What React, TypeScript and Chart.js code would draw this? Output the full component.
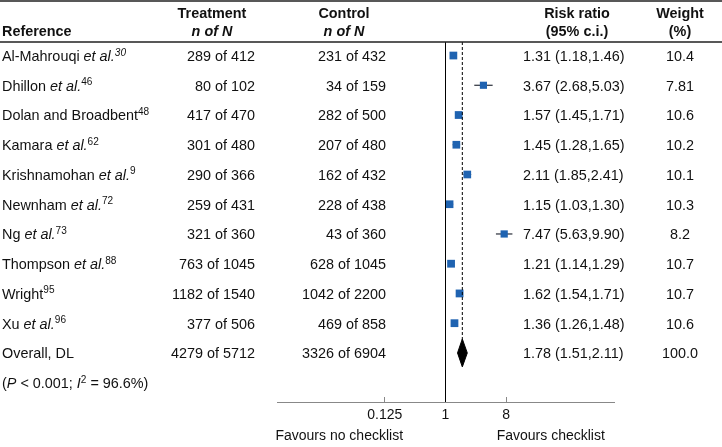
import React, { useEffect, useRef } from "react";
import { Chart, registerables } from "chart.js";

Chart.register(...registerables);

// ---------------- data ----------------
const authors = [
  "Al-Mahrouqi",
  "Dhillon",
  "Dolan and Broadbent",
  "Kamara",
  "Krishnamohan",
  "Newnham",
  "Ng",
  "Thompson",
  "Wright",
  "Xu",
];
const etAl = [true, true, false, true, true, true, true, true, false, true];
const refNums = ["30", "46", "48", "62", "9", "72", "73", "88", "95", "96"];
const refItalic = [true, false, false, false, false, false, false, false, false, false];
const treatEvents = [289, 80, 417, 301, 290, 259, 321, 763, 1182, 377];
const treatTotal = [412, 102, 470, 480, 366, 431, 360, 1045, 1540, 506];
const ctrlEvents = [231, 34, 282, 207, 162, 228, 43, 628, 1042, 469];
const ctrlTotal = [432, 159, 500, 480, 432, 438, 360, 1045, 2200, 858];
const riskRatio = [1.31, 3.67, 1.57, 1.45, 2.11, 1.15, 7.47, 1.21, 1.62, 1.36];
const ciLow = [1.18, 2.68, 1.45, 1.28, 1.85, 1.03, 5.63, 1.14, 1.54, 1.26];
const ciHigh = [1.46, 5.03, 1.71, 1.65, 2.41, 1.3, 9.9, 1.29, 1.71, 1.48];
const weights = ["10.4", "7.81", "10.6", "10.2", "10.1", "10.3", "8.2", "10.7", "10.7", "10.6"];

const overallLabel = "Overall, DL";
const overallTreat = [4279, 5712];
const overallCtrl = [3326, 6904];
const overallRR = 1.78;
const overallLow = 1.51;
const overallHigh = 2.11;
const overallWeight = "100.0";

const xTicks = [0.125, 1, 8];
const xTickLabels = ["0.125", "1", "8"];
const favoursLeft = "Favours no checklist";
const favoursRight = "Favours checklist";

// ---------------- style ----------------
const FAMILY = '"Liberation Sans", Arial, Helvetica, sans-serif';
const FS = 14.4;
const TEXT = "#111";
const BLUE = "#1f63b1";
const Y_MIN = -0.455;
const Y_MAX = 11.65;
const OVERALL_ROW = authors.length;
const NOTE_ROW = authors.length + 1;
const HEAD1 = -1.45;
const HEAD2 = -0.84;
const DIAMOND_H = 0.47;
const TEXT_DY = 1.5;

type Seg = { t: string; i?: boolean; b?: boolean; s?: boolean };

function segFont(seg: Seg) {
  const size = seg.s ? FS * 0.7 : FS;
  return `${seg.i ? "italic " : ""}${seg.b ? "bold " : ""}${size}px ${FAMILY}`;
}

function drawRich(
  ctx: CanvasRenderingContext2D,
  segs: Seg[],
  x: number,
  y: number,
  align: "left" | "right" | "center"
) {
  ctx.textAlign = "left";
  ctx.textBaseline = "middle";
  let w = 0;
  const widths: number[] = [];
  for (const s of segs) {
    ctx.font = segFont(s);
    const mw = ctx.measureText(s.t).width;
    widths.push(mw);
    w += mw;
  }
  let cx = align === "left" ? x : align === "right" ? x - w : x - w / 2;
  const yy = y + TEXT_DY;
  segs.forEach((s, k) => {
    ctx.font = segFont(s);
    ctx.fillText(s.t, cx, s.s ? yy - FS * 0.3 : yy);
    cx += widths[k];
  });
}

const COL = {
  ref: 2,
  treatHead: 212,
  treatRight: 255,
  ctrlHead: 344,
  ctrlRight: 386,
  rrHead: 577,
  rrLeft: 523,
  weight: 680,
};

const tablePlugin = {
  id: "forestTable",
  afterDraw(chart: any) {
    const ctx: CanvasRenderingContext2D = chart.ctx;
    const ys = chart.scales.y;
    const xs = chart.scales.x;
    const W = chart.width;
    ctx.save();
    ctx.fillStyle = TEXT;

    // rules
    ctx.strokeStyle = "#222";
    ctx.lineWidth = 1.3;
    ctx.beginPath();
    ctx.moveTo(0, 1);
    ctx.lineTo(W, 1);
    const sep = ys.getPixelForValue(Y_MIN);
    ctx.moveTo(0, sep);
    ctx.lineTo(W, sep);
    ctx.stroke();

    // headers
    const h1 = ys.getPixelForValue(HEAD1);
    const h2 = ys.getPixelForValue(HEAD2);
    drawRich(ctx, [{ t: "Reference", b: true }], COL.ref, h2, "left");
    drawRich(ctx, [{ t: "Treatment", b: true }], COL.treatHead, h1, "center");
    drawRich(ctx, [{ t: "n of N", b: true, i: true }], COL.treatHead, h2, "center");
    drawRich(ctx, [{ t: "Control", b: true }], COL.ctrlHead, h1, "center");
    drawRich(ctx, [{ t: "n of N", b: true, i: true }], COL.ctrlHead, h2, "center");
    drawRich(ctx, [{ t: "Risk ratio", b: true }], COL.rrHead, h1, "center");
    drawRich(ctx, [{ t: "(95% c.i.)", b: true }], COL.rrHead, h2, "center");
    drawRich(ctx, [{ t: "Weight", b: true }], COL.weight, h1, "center");
    drawRich(ctx, [{ t: "(%)", b: true }], COL.weight, h2, "center");

    // study rows
    authors.forEach((a, i) => {
      const y = ys.getPixelForValue(i);
      const segs: Seg[] = [];
      if (etAl[i]) {
        segs.push({ t: a + " " });
        segs.push({ t: "et al.", i: true });
      } else {
        segs.push({ t: a });
      }
      segs.push({ t: refNums[i], s: true, i: refItalic[i] });
      drawRich(ctx, segs, COL.ref, y, "left");
      drawRich(ctx, [{ t: `${treatEvents[i]} of ${treatTotal[i]}` }], COL.treatRight, y, "right");
      drawRich(ctx, [{ t: `${ctrlEvents[i]} of ${ctrlTotal[i]}` }], COL.ctrlRight, y, "right");
      drawRich(
        ctx,
        [{ t: `${riskRatio[i].toFixed(2)} (${ciLow[i].toFixed(2)},${ciHigh[i].toFixed(2)})` }],
        COL.rrLeft,
        y,
        "left"
      );
      drawRich(ctx, [{ t: weights[i] }], COL.weight, y, "center");
    });

    // overall row
    const yo = ys.getPixelForValue(OVERALL_ROW);
    drawRich(ctx, [{ t: overallLabel }], COL.ref, yo, "left");
    drawRich(ctx, [{ t: `${overallTreat[0]} of ${overallTreat[1]}` }], COL.treatRight, yo, "right");
    drawRich(ctx, [{ t: `${overallCtrl[0]} of ${overallCtrl[1]}` }], COL.ctrlRight, yo, "right");
    drawRich(
      ctx,
      [{ t: `${overallRR.toFixed(2)} (${overallLow.toFixed(2)},${overallHigh.toFixed(2)})` }],
      COL.rrLeft,
      yo,
      "left"
    );
    drawRich(ctx, [{ t: overallWeight }], COL.weight, yo, "center");

    // heterogeneity note
    const yn = ys.getPixelForValue(NOTE_ROW);
    drawRich(
      ctx,
      [
        { t: "(" },
        { t: "P", i: true },
        { t: " < 0.001; " },
        { t: "I", i: true },
        { t: "2", s: true },
        { t: " = 96.6%)" },
      ],
      COL.ref,
      yn,
      "left"
    );

    // favours labels
    const yf = 436.5;
    const left = xs.left;
    const one = xs.getPixelForValue(1);
    ctx.font = `${14}px ${FAMILY}`;
    ctx.textAlign = "center";
    ctx.textBaseline = "middle";
    ctx.fillText(favoursLeft, (left + one) / 2 - 22, yf);
    ctx.fillText(favoursRight, (one + xs.right) / 2 + 21, yf);
    ctx.restore();
  },
};

export default function App() {
  const ref = useRef<HTMLCanvasElement | null>(null);

  useEffect(() => {
    if (!ref.current) return;
    const radii = weights.map((w) => 3.8 + 0.16 * parseFloat(w));
    const chart = new Chart(ref.current, {
      type: "scatter",
      data: {
        datasets: [
          {
            data: [
              { x: 1, y: Y_MIN },
              { x: 1, y: Y_MAX },
            ],
            showLine: true,
            pointRadius: 0,
            borderColor: "#000",
            borderWidth: 1,
          },
          {
            data: [
              { x: overallRR, y: Y_MIN },
              { x: overallRR, y: OVERALL_ROW + DIAMOND_H },
            ],
            showLine: true,
            pointRadius: 0,
            borderColor: "#000",
            borderWidth: 1,
            borderDash: [3, 2],
          },
          {
            data: riskRatio.map((v, i) => ({ x: v, y: i })),
            pointStyle: "rect",
            pointRadius: radii,
            backgroundColor: BLUE,
            borderColor: BLUE,
            borderWidth: 0,
          },
          {
            data: [
              { x: overallLow, y: OVERALL_ROW },
              { x: overallRR, y: OVERALL_ROW - DIAMOND_H },
              { x: overallHigh, y: OVERALL_ROW },
              { x: overallRR, y: OVERALL_ROW + DIAMOND_H },
              { x: overallLow, y: OVERALL_ROW },
            ],
            showLine: true,
            fill: "shape",
            pointRadius: 0,
            borderColor: "#000",
            backgroundColor: "#000",
            borderWidth: 1,
          },
          ...riskRatio.map((_, i) => ({
            data: [
              { x: ciLow[i], y: i },
              { x: ciHigh[i], y: i },
            ],
            showLine: true,
            pointRadius: 0,
            borderColor: "#2a2f3a",
            borderWidth: 1.2,
          })),
        ] as any,
      },
      options: {
        animation: false,
        responsive: true,
        maintainAspectRatio: false,
        layout: { padding: { left: 277, right: 108, top: 42, bottom: 0 } },
        plugins: {
          legend: { display: false },
          tooltip: { enabled: false },
        },
        scales: {
          x: {
            type: "logarithmic",
            min: Math.pow(2, -8.33),
            max: Math.pow(2, 8.33),
            afterBuildTicks: (s: any) => {
              s.ticks = xTicks.map((v) => ({ value: v }));
            },
            afterFit: (s: any) => {
              s.height = 45;
            },
            ticks: {
              autoSkip: false,
              maxRotation: 0,
              padding: 10,
              color: TEXT,
              font: { family: FAMILY, size: 14 },
              callback: (_v: any, i: number) => xTickLabels[i] ?? "",
            },
            grid: {
              display: true,
              drawOnChartArea: false,
              drawTicks: true,
              tickLength: -5,
              color: "#888",
            },
            border: { display: true, color: "#888", width: 1 },
          },
          y: {
            type: "linear",
            reverse: true,
            min: Y_MIN,
            max: Y_MAX,
            display: false,
          },
        },
      } as any,
      plugins: [tablePlugin],
    });
    return () => chart.destroy();
  }, []);

  return (
    <div style={{ position: "absolute", left: 0, top: 0, width: 722, height: 447, background: "#fff" }}>
      <canvas ref={ref} />
    </div>
  );
}
